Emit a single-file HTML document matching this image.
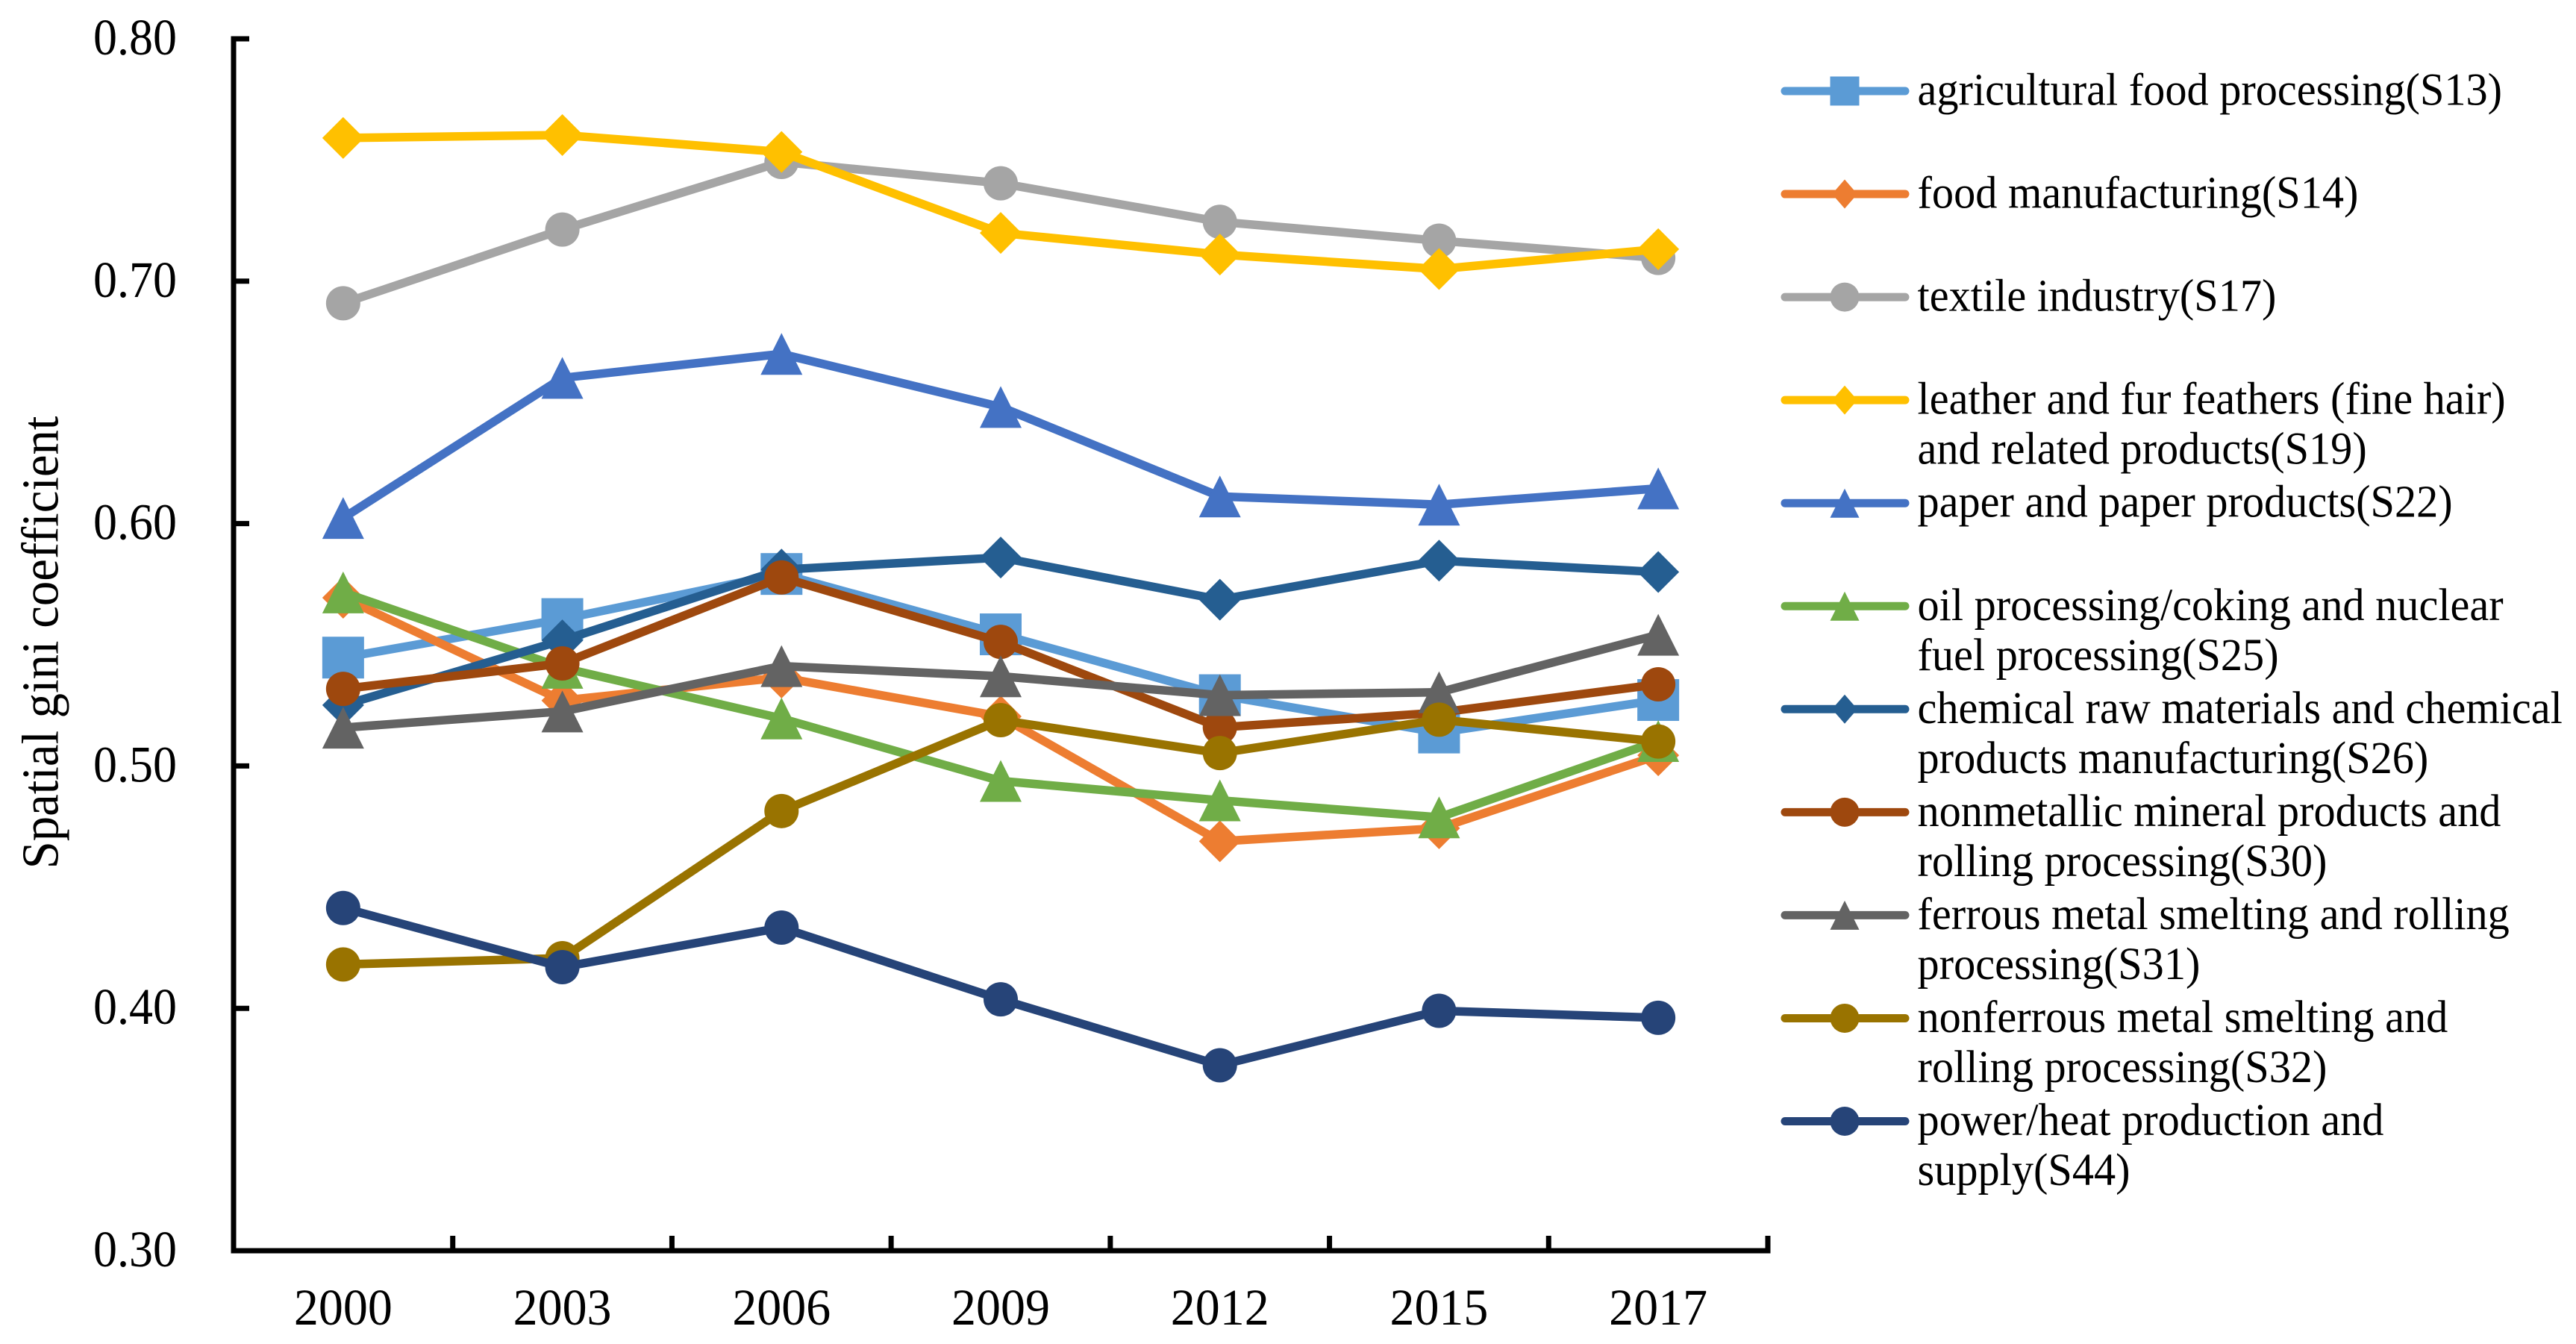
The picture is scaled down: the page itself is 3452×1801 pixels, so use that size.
<!DOCTYPE html>
<html lang="en">
<head>
<meta charset="utf-8">
<title>Spatial gini coefficient by industry</title>
<style>
  html, body { margin: 0; padding: 0; background: #fff; }
  svg { display: block; }
  text { font-family: "Liberation Serif", "Times New Roman", serif; fill: #000; }
</style>
</head>
<body>
<svg id="chart" xmlns="http://www.w3.org/2000/svg" width="3452" height="1801" viewBox="0 0 3452 1801">
  <rect x="0" y="0" width="3452" height="1801" fill="#ffffff"/>
  <text transform="translate(77.5 861) rotate(-90) scale(0.954 1)" text-anchor="middle" font-size="70">Spatial gini coefficient</text>
</svg>
<script>
const categories = ['2000', '2003', '2006', '2009', '2012', '2015', '2017'];
const yTicks = [0.30, 0.40, 0.50, 0.60, 0.70, 0.80];
const yTickLabels = ['0.30', '0.40', '0.50', '0.60', '0.70', '0.80'];

const s13 = [0.5447, 0.5606, 0.5792, 0.5543, 0.5292, 0.5138, 0.5272];
const s14 = [0.5694, 0.5270, 0.5365, 0.5204, 0.4689, 0.4743, 0.5044];
const s17 = [0.6909, 0.7213, 0.7492, 0.7404, 0.7245, 0.7167, 0.7096];
const s19 = [0.7591, 0.7603, 0.7533, 0.7199, 0.7110, 0.7050, 0.7132];
const s22 = [0.6023, 0.6601, 0.6700, 0.6481, 0.6112, 0.6078, 0.6145];
const s25 = [0.5716, 0.5405, 0.5196, 0.4938, 0.4858, 0.4788, 0.5103];
const s26 = [0.5251, 0.5518, 0.5810, 0.5860, 0.5686, 0.5847, 0.5800];
const s30 = [0.5318, 0.5423, 0.5778, 0.5512, 0.5159, 0.5220, 0.5337];
const s31 = [0.5158, 0.5225, 0.5412, 0.5370, 0.5292, 0.5304, 0.5541];
const s32 = [0.4181, 0.4207, 0.4814, 0.5189, 0.5053, 0.5191, 0.5101];
const s44 = [0.4414, 0.4170, 0.4333, 0.4037, 0.3765, 0.3990, 0.3961];

const legendLabels = [
  ['agricultural food processing(S13)'],
  ['food manufacturing(S14)'],
  ['textile industry(S17)'],
  ['leather and fur feathers (fine hair)', 'and related products(S19)'],
  ['paper and paper products(S22)'],
  ['oil processing/coking and nuclear', 'fuel processing(S25)'],
  ['chemical raw materials and chemical', 'products manufacturing(S26)'],
  ['nonmetallic mineral products and', 'rolling processing(S30)'],
  ['ferrous metal smelting and rolling', 'processing(S31)'],
  ['nonferrous metal smelting and', 'rolling processing(S32)'],
  ['power/heat production and', 'supply(S44)']
];

const seriesValues = [s13, s14, s17, s19, s22, s25, s26, s30, s31, s32, s44];
const seriesIds = ['s13', 's14', 's17', 's19', 's22', 's25', 's26', 's30', 's31', 's32', 's44'];
const seriesColors = ['#5B9BD5', '#ED7D31', '#A5A5A5', '#FFC000', '#4472C4', '#70AD47', '#255E91', '#9E480E', '#636363', '#997300', '#264478'];
const seriesMarkers = ['square', 'diamond', 'circle', 'diamond', 'triangle', 'triangle', 'diamond', 'circle', 'triangle', 'circle', 'circle'];

const NS = 'http://www.w3.org/2000/svg';
const svg = document.getElementById('chart');

const AXIS_LEFT = 313, AXIS_RIGHT = 2369, AXIS_BOTTOM = 1676, AXIS_TOP = 52;
const Y_MIN = yTicks[0], Y_MAX = yTicks[yTicks.length - 1];

function xPos(i) {
  return AXIS_LEFT + (i + 0.5) * (AXIS_RIGHT - AXIS_LEFT) / categories.length;
}
function xEdge(i) {
  return AXIS_LEFT + i * (AXIS_RIGHT - AXIS_LEFT) / categories.length;
}
function yPos(v) {
  return AXIS_BOTTOM - (v - Y_MIN) / (Y_MAX - Y_MIN) * (AXIS_BOTTOM - AXIS_TOP);
}
function make(tag, attrs, parent) {
  const el = document.createElementNS(NS, tag);
  Object.keys(attrs).forEach(function (k) { el.setAttribute(k, attrs[k]); });
  (parent || svg).appendChild(el);
  return el;
}
function marker(type, x, y, size, diamondWidth, circleSize, color, parent) {
  const h = size / 2;
  if (type === 'square') {
    return make('rect', { x: x - h, y: y - h, width: size, height: size, fill: color }, parent);
  }
  if (type === 'diamond') {
    const w = diamondWidth / 2;
    return make('polygon', { points: [x, y - h, x + w, y, x, y + h, x - w, y].join(' '), fill: color }, parent);
  }
  if (type === 'triangle') {
    return make('polygon', { points: [x, y - h, x + h, y + h, x - h, y + h].join(' '), fill: color }, parent);
  }
  return make('circle', { cx: x, cy: y, r: circleSize / 2, fill: color }, parent);
}

/* axes */
const yAxis = make('line', { x1: AXIS_LEFT, x2: AXIS_LEFT, y1: AXIS_TOP - 3.5, y2: AXIS_BOTTOM + 3.5, stroke: '#000', 'stroke-width': 7 });



const xAxis = make('line', { x1: AXIS_LEFT - 3.5, x2: AXIS_RIGHT + 3.5, y1: AXIS_BOTTOM, y2: AXIS_BOTTOM, stroke: '#000', 'stroke-width': 7 });



yTicks.forEach(function (t, i) {
  const y = yPos(t);
  if (i > 0) {
    const tick = make('line', { x1: AXIS_LEFT, x2: AXIS_LEFT + 21, y1: y, y2: y, stroke: '#000', 'stroke-width': 7 });
    
    
  }
  const label = make('text', { transform: 'translate(237 ' + (y + 21) + ') scale(0.934 1)', 'text-anchor': 'end', 'font-size': 68.5 });
  label.textContent = yTickLabels[i];
  
  
});

categories.forEach(function (c, i) {
  const tick = make('line', { x1: xEdge(i + 1), x2: xEdge(i + 1), y1: AXIS_BOTTOM, y2: AXIS_BOTTOM - 20, stroke: '#000', 'stroke-width': 7 });
  
  
  const label = make('text', { transform: 'translate(' + xPos(i) + ' 1775) scale(0.963 1)', 'text-anchor': 'middle', 'font-size': 68.5 });
  label.textContent = c;
  
  
});

/* series */
seriesValues.forEach(function (vals, s) {
  const g = make('g', {});
  
  
  const pts = vals.map(function (v, i) { return xPos(i) + ',' + yPos(v); }).join(' ');
  const line = make('polyline', { points: pts, fill: 'none', stroke: seriesColors[s], 'stroke-width': 11.5, 'stroke-linejoin': 'round', 'stroke-linecap': 'round' }, g);
  
  
  vals.forEach(function (v, i) {
    const m = marker(seriesMarkers[s], xPos(i), yPos(v), 56, 56, 46, seriesColors[s], g);
    
    
  });
});

/* legend */
legendLabels.forEach(function (lines, s) {
  const y = 122 + s * 138.05;
  const g = make('g', {});
  
  
  const swatch = make('line', { x1: 2392, x2: 2553, y1: y, y2: y, stroke: seriesColors[s], 'stroke-width': 11, 'stroke-linecap': 'round' }, g);
  
  
  const m = marker(seriesMarkers[s], 2472, y, 39, 34, 39, seriesColors[s], g);
  
  
  lines.forEach(function (txt, j) {
    const t = make('text', { transform: 'translate(2569.5 ' + (y + 18.5 + j * 67) + ') scale(0.956 1)', 'font-size': 61 }, g);
    t.textContent = txt;
    
    
  });
});
</script>
</body>
</html>
